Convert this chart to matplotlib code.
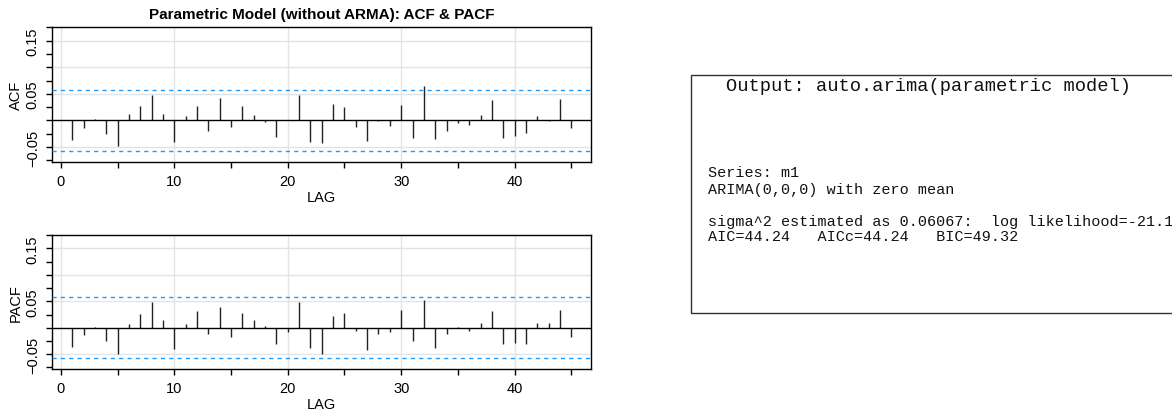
import numpy as np
import matplotlib
matplotlib.use('Agg')
import matplotlib.pyplot as plt
from matplotlib.patches import Rectangle

# lags and sample autocorrelations
lags = np.arange(1, 46)
acf_vals = [-0.036, -0.014, 0.0025, -0.026, -0.0475, 0.0125, 0.0275, 0.0475, 0.0125, -0.041,
            0.009, 0.027, -0.019, 0.042, -0.013, 0.0275, 0.011, -0.0025, -0.032, 0.0005,
            0.047, -0.041, -0.0425, 0.030, 0.026, -0.013, -0.038, -0.001, -0.010, 0.029,
            -0.0325, 0.065, -0.034, -0.020, -0.004, -0.009, 0.010, 0.038, -0.0325, -0.029,
            -0.024, 0.0075, -0.001, 0.040, -0.014]
pacf_vals = [-0.036, -0.014, 0.002, -0.026, -0.049, 0.008, 0.026, 0.049, 0.014, -0.041,
             0.0075, 0.031, -0.0125, 0.039, -0.0175, 0.0275, 0.015, 0.004, -0.031, -0.008,
             0.049, -0.0375, -0.049, 0.0225, 0.028, -0.006, -0.042, -0.0125, -0.009, 0.034,
             -0.026, 0.0525, -0.038, -0.0125, 0.002, -0.007, 0.009, 0.032, -0.031, -0.029,
             -0.030, 0.009, 0.009, 0.034, -0.018]
conf_bound = 0.058

title = "Parametric Model (without ARMA): ACF & PACF"
box_title = "Output: auto.arima(parametric model)"
box_lines = ["Series: m1",
             "ARIMA(0,0,0) with zero mean",
             "",
             "sigma^2 estimated as 0.06067:  log likelihood=-21.12",
             "AIC=44.24   AICc=44.24   BIC=49.32"]

plt.rcParams['font.family'] = ['Liberation Sans', 'DejaVu Sans']

fig = plt.figure(figsize=(11.72, 4.14), dpi=100)


def corr_panel(ax, vals, ylab):
    ax.set_xlim(-0.76, 46.76)
    ax.set_ylim(-0.078, 0.175)
    for v in [-0.05, 0.05, 0.10, 0.15]:
        ax.axhline(v, color='#e3e3e3', lw=1, zorder=0)
    for v in [0, 10, 20, 30, 40]:
        ax.axvline(v, color='#e3e3e3', lw=1, zorder=0)
    ax.vlines(lags, 0, vals, color='#222222', lw=1.0, zorder=2)
    ax.axhline(0, color='black', lw=1, zorder=3)
    for b in [conf_bound, -conf_bound]:
        ax.axhline(b, color='#1E9BFF', lw=1, ls=(0, (3, 3)), zorder=3)
    yt = np.arange(-0.075, 0.1751, 0.025)
    ax.set_yticks(yt)
    ax.set_yticklabels(['' if round(t, 3) not in (-0.05, 0.05, 0.15) else ('%g' % round(t, 3)).replace('-', '\u2212')
                        for t in yt], rotation=90, va='center', fontsize=10.5)
    ax.set_xticks(np.arange(0, 46, 5))
    ax.set_xticklabels([str(t) if t % 10 == 0 else '' for t in range(0, 46, 5)], fontsize=10.5)
    ax.tick_params(direction='out', length=4, width=1)
    ax.tick_params(axis='x', pad=5)
    ax.tick_params(axis='y', pad=5)
    for s in ax.spines.values():
        s.set_linewidth(1)
    ax.set_ylabel(ylab, fontsize=10.5, labelpad=2)
    ax.set_xlabel('LAG', fontsize=10.5, labelpad=1)


ax1 = fig.add_axes([0.0446, 0.6063, 0.4599, 0.3254])
corr_panel(ax1, acf_vals, 'ACF')
ax1.set_title(title, fontsize=11, fontweight='bold', pad=7)

ax2 = fig.add_axes([0.0446, 0.1063, 0.4599, 0.3232])
corr_panel(ax2, pacf_vals, 'PACF')

# text output box
fig.patches.append(Rectangle((0.5893, 0.2415), 0.5, 0.5742, transform=fig.transFigure,
                             fill=False, edgecolor='#333333', lw=1))
fig.text(0.6195, 0.7906, box_title, family='Liberation Mono', fontsize=13.5, va='center',
         color='#111111')
ys = [0.582, 0.541, 0.5025, 0.4645, 0.4283]
for line, y in zip(box_lines, ys):
    fig.text(0.6043, y, line, family='Liberation Mono', fontsize=10.9, va='center',
             color='#111111')

fig.savefig('out.png', dpi=100)
